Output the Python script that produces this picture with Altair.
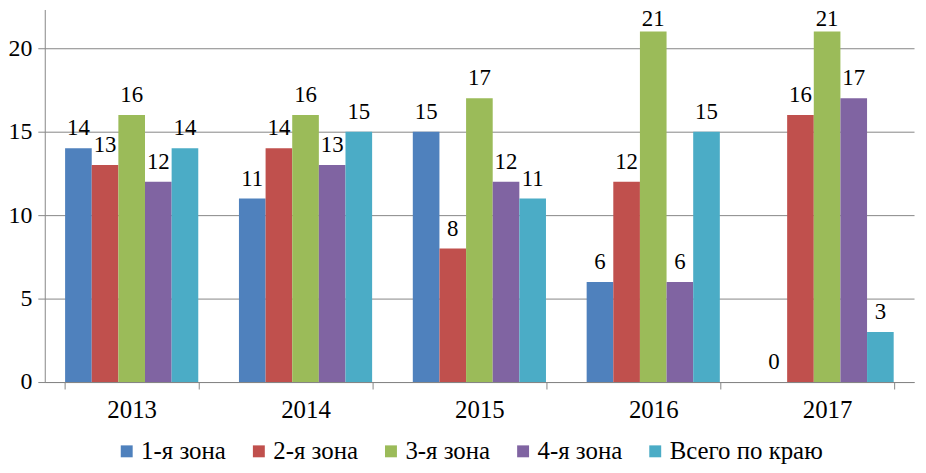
import altair as alt
import pandas as pd

years = ["2013", "2014", "2015", "2016", "2017"]
series = ["1-я зона", "2-я зона", "3-я зона", "4-я зона", "Всего по краю"]
colors = ["#4F81BD", "#C0504D", "#9BBB59", "#8064A2", "#4BACC6"]
zone1 = [14, 11, 15, 6, 0]
zone2 = [13, 14, 8, 12, 16]
zone3 = [16, 16, 17, 21, 21]
zone4 = [12, 13, 12, 6, 17]
total = [14, 15, 11, 15, 3]

vals = [zone1, zone2, zone3, zone4, total]
rows = []
for s, v in zip(series, vals):
    for y, x in zip(years, v):
        rows.append({"year": y, "series": s, "value": x})
df = pd.DataFrame(rows)

FONT = "Liberation Serif"
FS = 24
LFS = 23

x = alt.X("year:N", sort=years, title=None,
          scale=alt.Scale(paddingInner=0.234, paddingOuter=0.117),
          axis=alt.Axis(labelAngle=0, tickBand="extent", labelFont=FONT, labelFontSize=25,
                        labelColor="black", domainColor="#868686", tickColor="#868686",
                        tickSize=7, labelPadding=9, grid=False))
xo = alt.XOffset("series:N", sort=series, scale=alt.Scale(paddingInner=0, paddingOuter=0))
y = alt.Y("value:Q", title=None,
          scale=alt.Scale(domain=[0, 22.32], nice=False, zero=True),
          axis=alt.Axis(values=[0, 5, 10, 15, 20], labelFont=FONT, labelFontSize=FS,
                        labelColor="black", domainColor="#868686", tickColor="#868686",
                        tickSize=7, labelPadding=6, gridColor="#868686", gridWidth=1))

bars = alt.Chart(df).mark_bar().encode(
    x=x, xOffset=xo, y=y,
    color=alt.Color("series:N", sort=series,
                    scale=alt.Scale(domain=series, range=colors),
                    legend=alt.Legend(title=None, orient="none", direction="horizontal",
                                      legendX=70, legendY=432, symbolType="square",
                                      symbolSize=144, symbolStrokeWidth=0,
                                      labelFont=FONT, labelFontSize=25, labelColor="black",
                                      labelOffset=2, columnPadding=20)),
)

base_text = alt.Chart(df).encode(
    x=alt.X("year:N", sort=years), xOffset=alt.XOffset("series:N", sort=series),
    y=alt.Y("value:Q"), text=alt.Text("value:Q"),
)
labels_low = base_text.transform_filter(alt.datum.value < 20).mark_text(
    font=FONT, fontSize=LFS, color="black", baseline="alphabetic", dy=-13)
labels_high = base_text.transform_filter(alt.datum.value >= 20).mark_text(
    font=FONT, fontSize=LFS, color="black", baseline="alphabetic", dy=-6)

chart = alt.layer(bars, labels_low, labels_high).properties(
    width=875, height=375,
    autosize=alt.AutoSizeParams(type="none"),
    padding={"left": 37, "top": 0, "right": 4, "bottom": 82},
).configure_view(stroke=None).configure_axis(domainWidth=1, tickWidth=1)

chart.save("out.html", embed_options={"renderer": "svg", "actions": False})
